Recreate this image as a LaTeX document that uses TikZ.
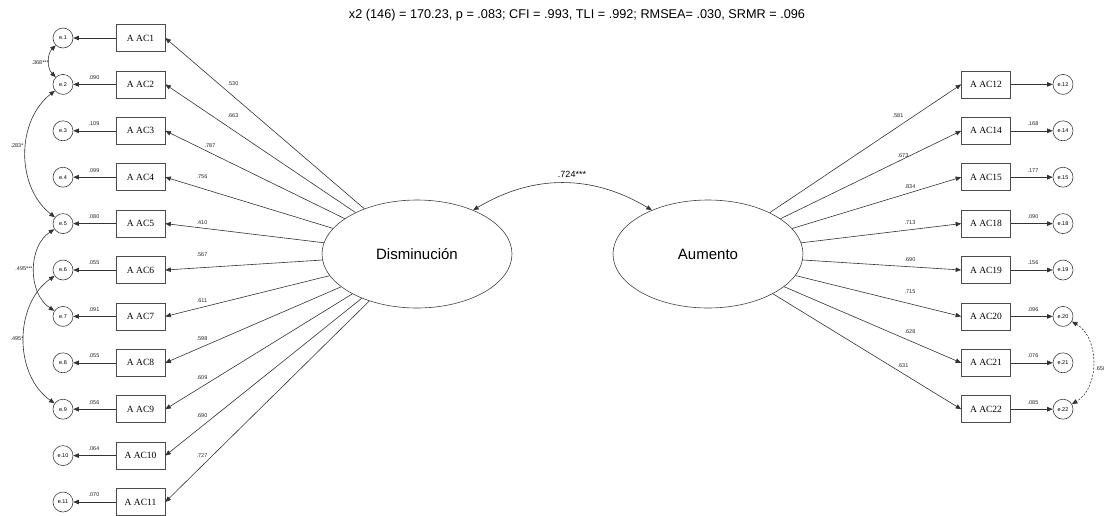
\documentclass[tikz,border=0pt]{standalone}
\usepackage{fontspec}
\setmainfont{Liberation Serif}
\setsansfont{Liberation Sans}
\usetikzlibrary{shapes.geometric,arrows.meta}
\begin{document}
\begin{tikzpicture}[x=1pt,y=1pt,
  line width=0.6pt, draw=black!80,
  tip/.style={-{Triangle[length=5.5pt,width=4.5pt]}},
  both/.style={{Triangle[length=5.5pt,width=4.5pt]}-{Triangle[length=5.5pt,width=4.5pt]}},
  item/.style={draw=black!70, line width=0.7pt, rectangle, minimum width=49pt, minimum height=27pt,
    inner sep=0pt, font=\fontsize{9.5}{10}\selectfont},
  err/.style={draw=black!75, circle, minimum size=20pt, inner sep=0pt,
    font=\sffamily\fontsize{5.5}{6}\selectfont},
  lat/.style={draw=black!75, ellipse, minimum width=190pt, minimum height=108pt, inner sep=0pt,
    font=\sffamily\fontsize{15}{18}\selectfont},
  lbl/.style={font=\sffamily\fontsize{5.5}{6}\selectfont, text=black!85, inner sep=0pt},
]
\useasboundingbox (0,0) rectangle (1104,-515);

% fit indices
\node[font=\sffamily\fontsize{12.7}{15}\selectfont] (fit) at (577,-15)
  {x2 (146) = 170.23, p = .083; CFI = .993, TLI = .992; RMSEA= .030, SRMR = .096};

% latent factors
\node[lat] (D) at (417,-254) {Disminución};
\node[lat] (A) at (708,-254) {Aumento};
\draw[both] (D.38) to[out=31,in=149] (A.142);
\node[font=\sffamily\fontsize{9}{10}\selectfont] (cov) at (572,-174) {.724***};

% Disminución indicators with their errors
\foreach \i/\y/\ev/\ld/\lx/\ly in {
  1/38/{}/.530/233/84,
  2/84.4/.090/.663/233/116,
  3/130.8/.109/.787/210/146,
  4/177.2/.099/.756/202/177,
  5/223.6/.080/.410/202/223,
  6/270/.055/.567/202/255,
  7/316.4/.091/.611/202/301,
  8/362.8/.055/.598/202/339,
  9/409.2/.056/.609/202/378,
  10/455.6/.064/.690/202/416,
  11/502/.070/.727/202/456} {
  \node[item] (L\i) at (140.5,-\y) {A AC\i};
  \node[err] (e\i) at (63,-\y) {e.\i};
  \draw[tip] (L\i) -- (e\i);
  \node[lbl] (ev\i) at (94,-\y+7) {\ev};
  \draw[tip] (D) -- (L\i.east);
  \node[lbl] (ld\i) at (\lx,-\ly) {\ld};
}

% Aumento indicators with their errors
\foreach \i/\y/\ev/\ld/\lx/\ly in {
  12/84.4/{}/.581/898/116,
  14/130.8/.168/.673/903/156,
  15/177.2/.177/.834/910/187,
  18/223.6/.090/.713/910/223,
  19/270/.156/.690/910/260,
  20/316.4/.096/.715/910/292,
  21/362.8/.076/.628/910/332,
  22/409.2/.085/.631/903/366} {
  \node[item] (R\i) at (986,-\y) {A AC\i};
  \node[err] (e\i) at (1063,-\y) {e.\i};
  \draw[tip] (R\i) -- (e\i);
  \node[lbl] (ev\i) at (1033,-\y+7) {\ev};
  \draw[tip] (A) -- (R\i.west);
  \node[lbl] (ld\i) at (\lx,-\ly) {\ld};
}

% error covariances
\draw[both] (e1) to[bend right=45] (e2);
\node[lbl, anchor=east] (c12) at (49,-63) {.368***};
\draw[both] (e2) to[bend right=52] (e5);
\node[lbl] (c25) at (17,-146) {.283*};
\draw[both] (e5) to[bend right=57] (e7);
\node[lbl] (c57) at (24,-269) {.495***};
\draw[both] (e6) to[bend right=55] (e9);
\node[lbl] (c69) at (17,-339) {.495*};
\draw[both, dash pattern=on 2pt off 1.5pt] (e20) to[bend left=60] (e22);
\node[lbl, anchor=west] (c2022) at (1095,-369) {.650};
\end{tikzpicture}
\end{document}
